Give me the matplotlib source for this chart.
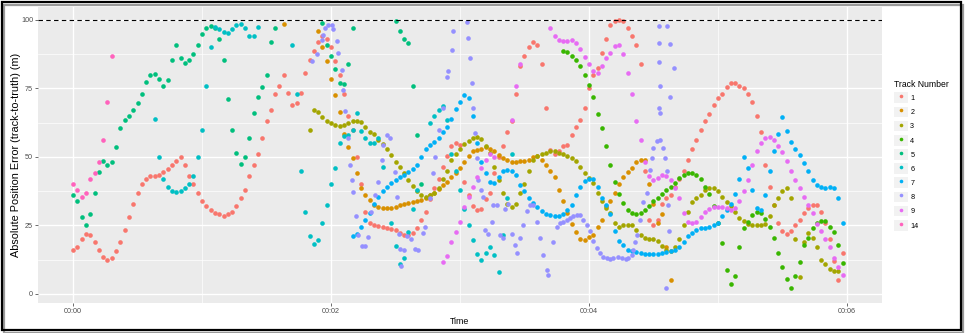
import numpy as np
import matplotlib
matplotlib.use("Agg")
import matplotlib.pyplot as plt
from matplotlib.lines import Line2D
from matplotlib.patches import Rectangle
from matplotlib.legend_handler import HandlerTuple

nan = np.nan
STEP = 2  # tracker reports every 2 s

track_labels = ["1", "2", "3", "4", "5", "6", "7", "8", "9", "14"]
track_colors = ["#F8766D", "#D89000", "#A3A500", "#39B600", "#00BF7D",
                "#00BFC4", "#00B0F6", "#9590FF", "#E76BF3", "#FF62BC"]

# first report time (s) of each regularly sampled track
start_1, start_2, start_3, start_4, start_5 = 0, 98, 110, 228, 0
start_6, start_7, start_9, start_14 = 38, 130, 172, 0

# absolute position error (m), one value per STEP
err_1 = [16, 17, 20, 22, 21.5, 19, 16, 13.5, 12.4, 13,
         15.5, 19, 23.5, 28, 33, 37, 40, 42, 43, 43,
         43.5, 44.5, 45.5, 47, 48.5, 50, 47, 43, 40, 37,
         34, 32, 30.5, 29.5, 29, 28.6, 29, 30, 32, 35,
         38, 43, 47, 51, 57, 63, 67, 73, 76, 80,
         73.5, 69, 69.5, 73.5, 80.5, 85.5, 88.5, 92, 94, 93,
         90, 85, 80, 73, 65, 60, 50, 40, 30, 26,
         25.2, 24.8, 24.6, 24.2, 23.8, 23.2, 22.1, 21.5, 21.5, 22.1,
         24, 27, 30, 34.5, 38.5, 42, 46.5, 50.5, 54, 55,
         54.5, 41, 36, 32, 30.7, 31, 34.5, 37, 44, 50,
         54, 59, 63, 73, 83, 87, 90, 92, 91, 84,
         68, 52.5, 51, 52, 54, 54.4, 58, 61, 63.5, 68,
         75, 80, 82.6, 88, 93, 98, 99.5, 100, 99.5, 97,
         94, 91, 84, 45, 27, 25, 27, 33, 35, 36,
         39, 42, 45, 49, 53, 56, 60, 63, 65.5, 69,
         71.5, 73, 75.5, 77, 77, 76, 75, 73, 70, 65,
         59, 47, 39, 32.5, 26, 23, 22, 23, 25, 27,
         29.5, 31.5, 32.5, 32.5, 30, 26, 20, 12, 5, 15]

err_2 = [98.4, nan, nan, nan, nan, nan, nan, nan, 96, 90,
         85, 78.5, 72.5, 66.5, 58.5, 53.8, 49.5, 44, 38.5, 36,
         34.2, 32.5, 31.6, 31.4, 31.3, 31.5, 31.9, 32.5, 32.9, 33.2,
         33.6, 34, 34.4, 35, 36, 37, 38.3, 39.7, 41, 42.8,
         44.3, 46, 48.2, 50.5, 52, 52.5, 53, 53.5, 52.8, 52.3,
         50.8, 49.5, 48.9, 48.3, 48.3, 48.5, 48.6, 49, 49.8, 50.5,
         49, 47, 45, 42.8, 38, 34, 29.5, 25.5, 22.5, 20,
         19.7, 20.6, 21.6, 24.6, 27, 32, 34, 37, 40, 42.5,
         44.5, 46, 48, 48.9, 48.7, 40, 33, 26, 29, 17,
         5]

err_3 = [60, 67, 66.5, 64.7, 63.2, 62.3, 61.7, 61.1, 61.7, 62.5,
         63.2, 63, 62.7, 61, 59, 58.2, 56.2, 54.8, 52.8, 50.7,
         48, 46.3, 44, 41.6, 39.5, 37.5, 36, 35.2, 36, 37,
         38.6, 42, 45, 48.9, 51, 53, 54.6, 55.9, 57, 57.1,
         56.5, 54, 51.5, 46.5, 41.5, 37, 33, 31.9, 33, 37,
         40, 45, 48.9, 50.3, 51, 51.6, 52, 52, 51.5, 51,
         50.5, 49.7, 48.4, 46.2, 44, 42.2, 40.4, 37, 34, 31.3,
         29.5, 25.8, 24.6, 25, 25.2, 25, 23.5, 21.6, 20.4, 19.9,
         20.1, 19.5, 17.5, 16, 15.5, 17, 20, 25, 30, 33.5,
         35, 36, 38, 38.8, 38.5, 37.5, 35.5, 33.7, 32, 30,
         27.6, 26.8, 25.5, 25.2, 25.2, 25, 25.5, 28.5, 32.5, 35,
         37.5, 38.5, 35, 20, 6.3, 19, 22.2, 20.5, 17, 12.5,
         11, 9.2, 8.2, 8.5]

err_4 = [88.8, 88.2, 87, 85.5, 83.3, 80, 76.3, 72, 65.5, 60.5,
         54, 47, 41, 36.5, 33.1, 30.8, 29.4, 29.1, 29.4, 30.8,
         32.2, 33.8, 35, 36.4, 38, 39, 40.4, 42.3, 43.5, 44.1,
         44.3, 43.5, 42, 39.2, 36.5, 32, 26, 18.5, 8.8, 3.8,
         6.5, 17.3, 24, 26.3, 28.7, 30, 29.6, 27.5, 24.5, 20.5,
         15, 10, 5.5, 2.1, 6.5, 11.5, 17.9, 20.5, 24, 25.8,
         26.7, 26.8, 24.5, 22.5, 18, 11.2]

err_5 = [36, 34, 28, 25, 29, 37, 44.5, 48.5, 47, 48,
         53.5, 60.5, 63.5, 65, 67, 69.5, 73, 77.5, 80, 80.2,
         78.5, 76, 78, 85.4, 91, 86, 84.2, 85.5, 87.5, 91,
         95, 97, 97.6, 97.2, 93, 85.5, 71, 60, 51.4, 47.5,
         50, 57, 66, 72, 75.5, 80, 92, 97, nan, nan,
         nan, nan, nan, nan, nan, nan, nan, nan, 98.8, 91,
         87, 82, 77, 76.5, 84, 97, nan, nan, nan, nan,
         nan, nan, nan, nan, nan, 99.7, 96, 93, 91.5, 76,
         58, 40]

err_6 = [64, 50, 42, 39, 37.5, 37.2, 37.4, 38.5, 40, 43,
         50, 60, 76, 90, 97.5, 96.7, 95.5, 95.2, 96.5, 98.3,
         98.6, 97, 94.3, 94.3, 97.5, nan, nan, nan, nan, nan,
         nan, nan, 91, 73, 45, 30, 21, 18.2, 19.8, 25.8,
         32.6, 40, 46, 55, 57.8, 58, 59.9, 66, 59.5, 56.8,
         55, 55.2, 56.8, 46.5, nan, 25.8, 17.5, 11, 13, 22.7,
         31, 38, nan, nan, 62.3, 65, 67, 68.4, 63.5, 51,
         45, 38, 31, 25, 19.7, 14.5, 12.5, 14.8, 17.3, 14.2,
         8.1, 21.5, 35, 51]

err_7 = [21, 22, 24.6, 27, 29.5, 33, 35.5, 37.5, 39, 40.5,
         41.5, 42.5, 43.5, 44.5, 45.5, 47, 50, 53, 54.5, 55.5,
         57, 59, 61, 64, 67.5, 70, 72.5, 71.5, 65, 55,
         48.3, 44, 41, 40.6, 42.5, 44.8, 45.3, 45, 43.3, 39.8,
         37.5, 35, 33.3, 31.6, 30.3, 29.3, 28.9, 28.6, 28.6, 29.2,
         30.5, 32.5, 36, 39, 41.3, 41.9, 42, 39, 35, 32.5,
         29, 23, 19.5, 18, 16.2, 15.6, 15.3, 15, 14.7, 14.5,
         14.5, 14.5, 14.8, 15.2, 15.7, 16.1, 17.3, 19, 21, 22.4,
         23.5, 24, 24.2, 24.6, 25, 26, 28.5, 30.5, 33, 36.5,
         42, 50, 46, 38, 31.5, 30.5, 36, 45, 52, 58.5,
         64.5, 59.5, 55.6, 53, 50.8, 47.7, 45, 41.5, 39.7, 39,
         38.8, 39, 38.8, 35, 26]

err_9 = [11.5, 14, 19, 22.5, 26.4, 31.6, 35.5, 39, 42.5, 46,
         48.9, 51, 50, nan, nan, nan, 63.5, 76, 84, nan,
         nan, nan, nan, nan, nan, 97, 94, 92.5, 92.4, 92.4,
         92.7, 91.5, 89.5, 86.6, 84, 81.2, 80.6, 83, 86, 88,
         90.5, 90.8, 87.5, 80.5, 73, 63, 56, 48, 43, 41.6,
         42.2, 43.5, 43.2, 41.5, 38.6, 35, 29.5, 26.4, 25.8, 26.4,
         28, 30, 31.1, 31.9, 31.9, 31.7, 31.2, 30.7, 31.5, 34,
         37.5, 41.6, 47, 52, 55, 56.8, 57.1, 56, 54, 51.8,
         48.4, 44.7, 41.6, 38.6, 35.5, 32.5, 29.5, 25.5, 22.8, 20,
         17, 13, 10, 7]

err_14 = [40, 38, 35.5, 37, 42, 44, 48, 56, 70, 87]

# track 8 jumps around, so it keeps its own report times
time_8 = [111, 113.3, 115.6, 116.4, 117.2, 118.8, 120.3, 121.1, 122.7, 123.4,
          125, 125.8, 126.5, 128, 128.8, 129.6, 130.4, 131.5, 132.7, 134.5,
          136, 137.3, 138.5, 140.4, 142, 143.5, 144.3, 146, 147.5, 149.7,
          150.5, 151.5, 152, 152.6, 154, 155.4, 157, 159, 160.6, 162.9,
          163.7, 166, 167.6, 168.4, 170, 172, 173.8, 174.6, 176.1, 176.9,
          183.1, 183.9, 184.6, 185.4, 186.2, 187, 187.8, 188.5, 190, 190.8,
          191.6, 193, 194.7, 195.5, 197, 198.6, 200.1, 201, 202.5, 204,
          205.6, 206.3, 207.9, 209.4, 211, 212.5, 214.1, 215.6, 217.2, 218.7,
          220.3, 221, 223.4, 225, 226.5, 228, 229.6, 231.1, 232.7, 234.2,
          235.8, 237.3, 238.9, 240.4, 242, 243.5, 245.1, 246.6, 248.2, 249.7,
          251.3, 253.7, 255.2, 257, 258.3, 259.9, 260.7, 261.4, 262.2, 263.5,
          265.3, 266.9, 268.4, 269.2, 269.9, 271.5, 273.1, 274.6, 275.4, 276.2,
          276.9, 277.2, 275.8, 272.7, 276.2, 272.7, 277.7, 272.7, 279.6, 273.1,
          277.7, 273.2, 272.5]
err_8 = [85, 87.5, 92.7, 94.5, 97, 98.2, 98.2, 96.7, 92.4, 87.9,
         81.8, 74.5, 66.6, 56.8, 47, 41.6, 37.3, 28.4, 21.5, 17.4,
         17.4, 20.9, 30, 36.1, 41, 48.9, 54.4, 58, 57, 44.6,
         35.5, 22, 16.3, 10.2, 16, 21, 20, 16.4, 16, 22.1,
         24.6, 35, 44, 50.1, 60, 68, 79.3, 81.2, 89.1, 95.8,
         99.2, 93.3, 86, 76.9, 67.8, 58.6, 49.5, 41.6, 38, 35.5,
         23.4, 22, 26.4, 32.5, 32.5, 21.5, 20.3, 31, 33, 22,
         18, 14.9, 20.3, 25.2, 30.1, 32.5, 32.5, 26.4, 20.3, 14.3,
         8.8, 7, 19.1, 24.6, 25.8, 26.4, 27, 27.6, 28.6, 28.9,
         28.9, 27, 25.2, 22.8, 19.5, 16.7, 14.9, 13.6, 13, 12.8,
         13.3, 13.6, 13, 12.8, 13, 14.3, 16.1, 19.1, 21.6, 27,
         33.7, 36.8, 45.3, 49.5, 53.2, 55.9, 56.2, 53.2, 49.5, 44.7,
         32.5, 22.8, 2, 97.6, 97.6, 91.5, 91.1, 84.6, 82.4, 76,
         72, 66, 68]

time_ticks = [0, 120, 240, 360]
time_tick_labels = ["00:00", "00:02", "00:04", "00:06"]
err_ticks = [0, 25, 50, 75, 100]
err_limit = 100


def regular(start, vals):
    vals = np.asarray(vals, dtype=float)
    return start + STEP * np.arange(len(vals)), vals


series = {
    "1": regular(start_1, err_1),
    "2": regular(start_2, err_2),
    "3": regular(start_3, err_3),
    "4": regular(start_4, err_4),
    "5": regular(start_5, err_5),
    "6": regular(start_6, err_6),
    "7": regular(start_7, err_7),
    "8": (np.asarray(time_8), np.asarray(err_8)),
    "9": regular(start_9, err_9),
    "14": regular(start_14, err_14),
}

plt.rcParams["font.family"] = ["Liberation Sans", "DejaVu Sans"]

W, H = 965, 333
fig = plt.figure(figsize=(W / 100, H / 100), dpi=100)
ax = fig.add_axes([38 / W, 30 / H, 844 / W, 296 / H])
ax.set_facecolor("#EBEBEB")

for lab, col in zip(track_labels, track_colors):
    t, v = series[lab]
    ax.scatter(t, v, s=11, color=col, linewidths=0, zorder=3)

ax.axhline(err_limit, color="black", lw=0.8, ls=(0, (4, 3)), zorder=4)

ax.set_xlim(-16.3, 376.3)
ax.set_ylim(-3.3, 104.7)
ax.set_xticks(time_ticks)
ax.set_xticklabels(time_tick_labels)
ax.set_xticks([60, 180, 300], minor=True)
ax.set_yticks(err_ticks)
ax.set_yticks([12.5, 37.5, 62.5, 87.5], minor=True)
ax.grid(which="major", color="white", lw=1.0, zorder=0)
ax.grid(which="minor", color="white", lw=0.5, zorder=0)
ax.set_axisbelow(True)
for s in ax.spines.values():
    s.set_visible(False)
ax.tick_params(which="major", length=2, width=0.5, color="#333333",
               labelsize=5.2, labelcolor="#4D4D4D", pad=1.5)
ax.tick_params(which="minor", length=0)

ax.set_xlabel("Time", fontsize=6.4)
ax.set_ylabel("Absolute Position Error (track-to-truth) (m)", fontsize=7.8)
ax.xaxis.set_label_coords(0.5, -(317 - 303) / 296)
ax.yaxis.set_label_coords((21 - 38) / 844, 0.5)

handles = [(Rectangle((0, 0), 1, 1, facecolor="#F2F2F2", edgecolor="none"),
            Line2D([], [], ls="", marker="o", ms=2.6, mfc=c, mec="none"))
           for c in track_colors]
leg = fig.legend(handles, track_labels, handler_map={tuple: HandlerTuple(ndivide=1)},
                 loc="upper left", bbox_to_anchor=(894 / W, 1 - 80 / H),
                 frameon=False, title="Track Number", title_fontsize=6.2,
                 fontsize=5.2, handlelength=1.9, handleheight=1.9,
                 labelspacing=0.48, handletextpad=0.35, borderpad=0,
                 borderaxespad=0, alignment="left")

# framed border with a soft drop shadow
fig.add_artist(Rectangle((4 / W, 0.5 / H), 959 / W, 328 / H, transform=fig.transFigure,
                         fill=False, edgecolor="#9A9A9A", lw=1.6))
fig.add_artist(Rectangle((1.5 / W, 3 / H), 959.5 / W, 328.5 / H, transform=fig.transFigure,
                         fill=False, edgecolor="black", lw=1.6))

fig.savefig("out.png", dpi=100)
